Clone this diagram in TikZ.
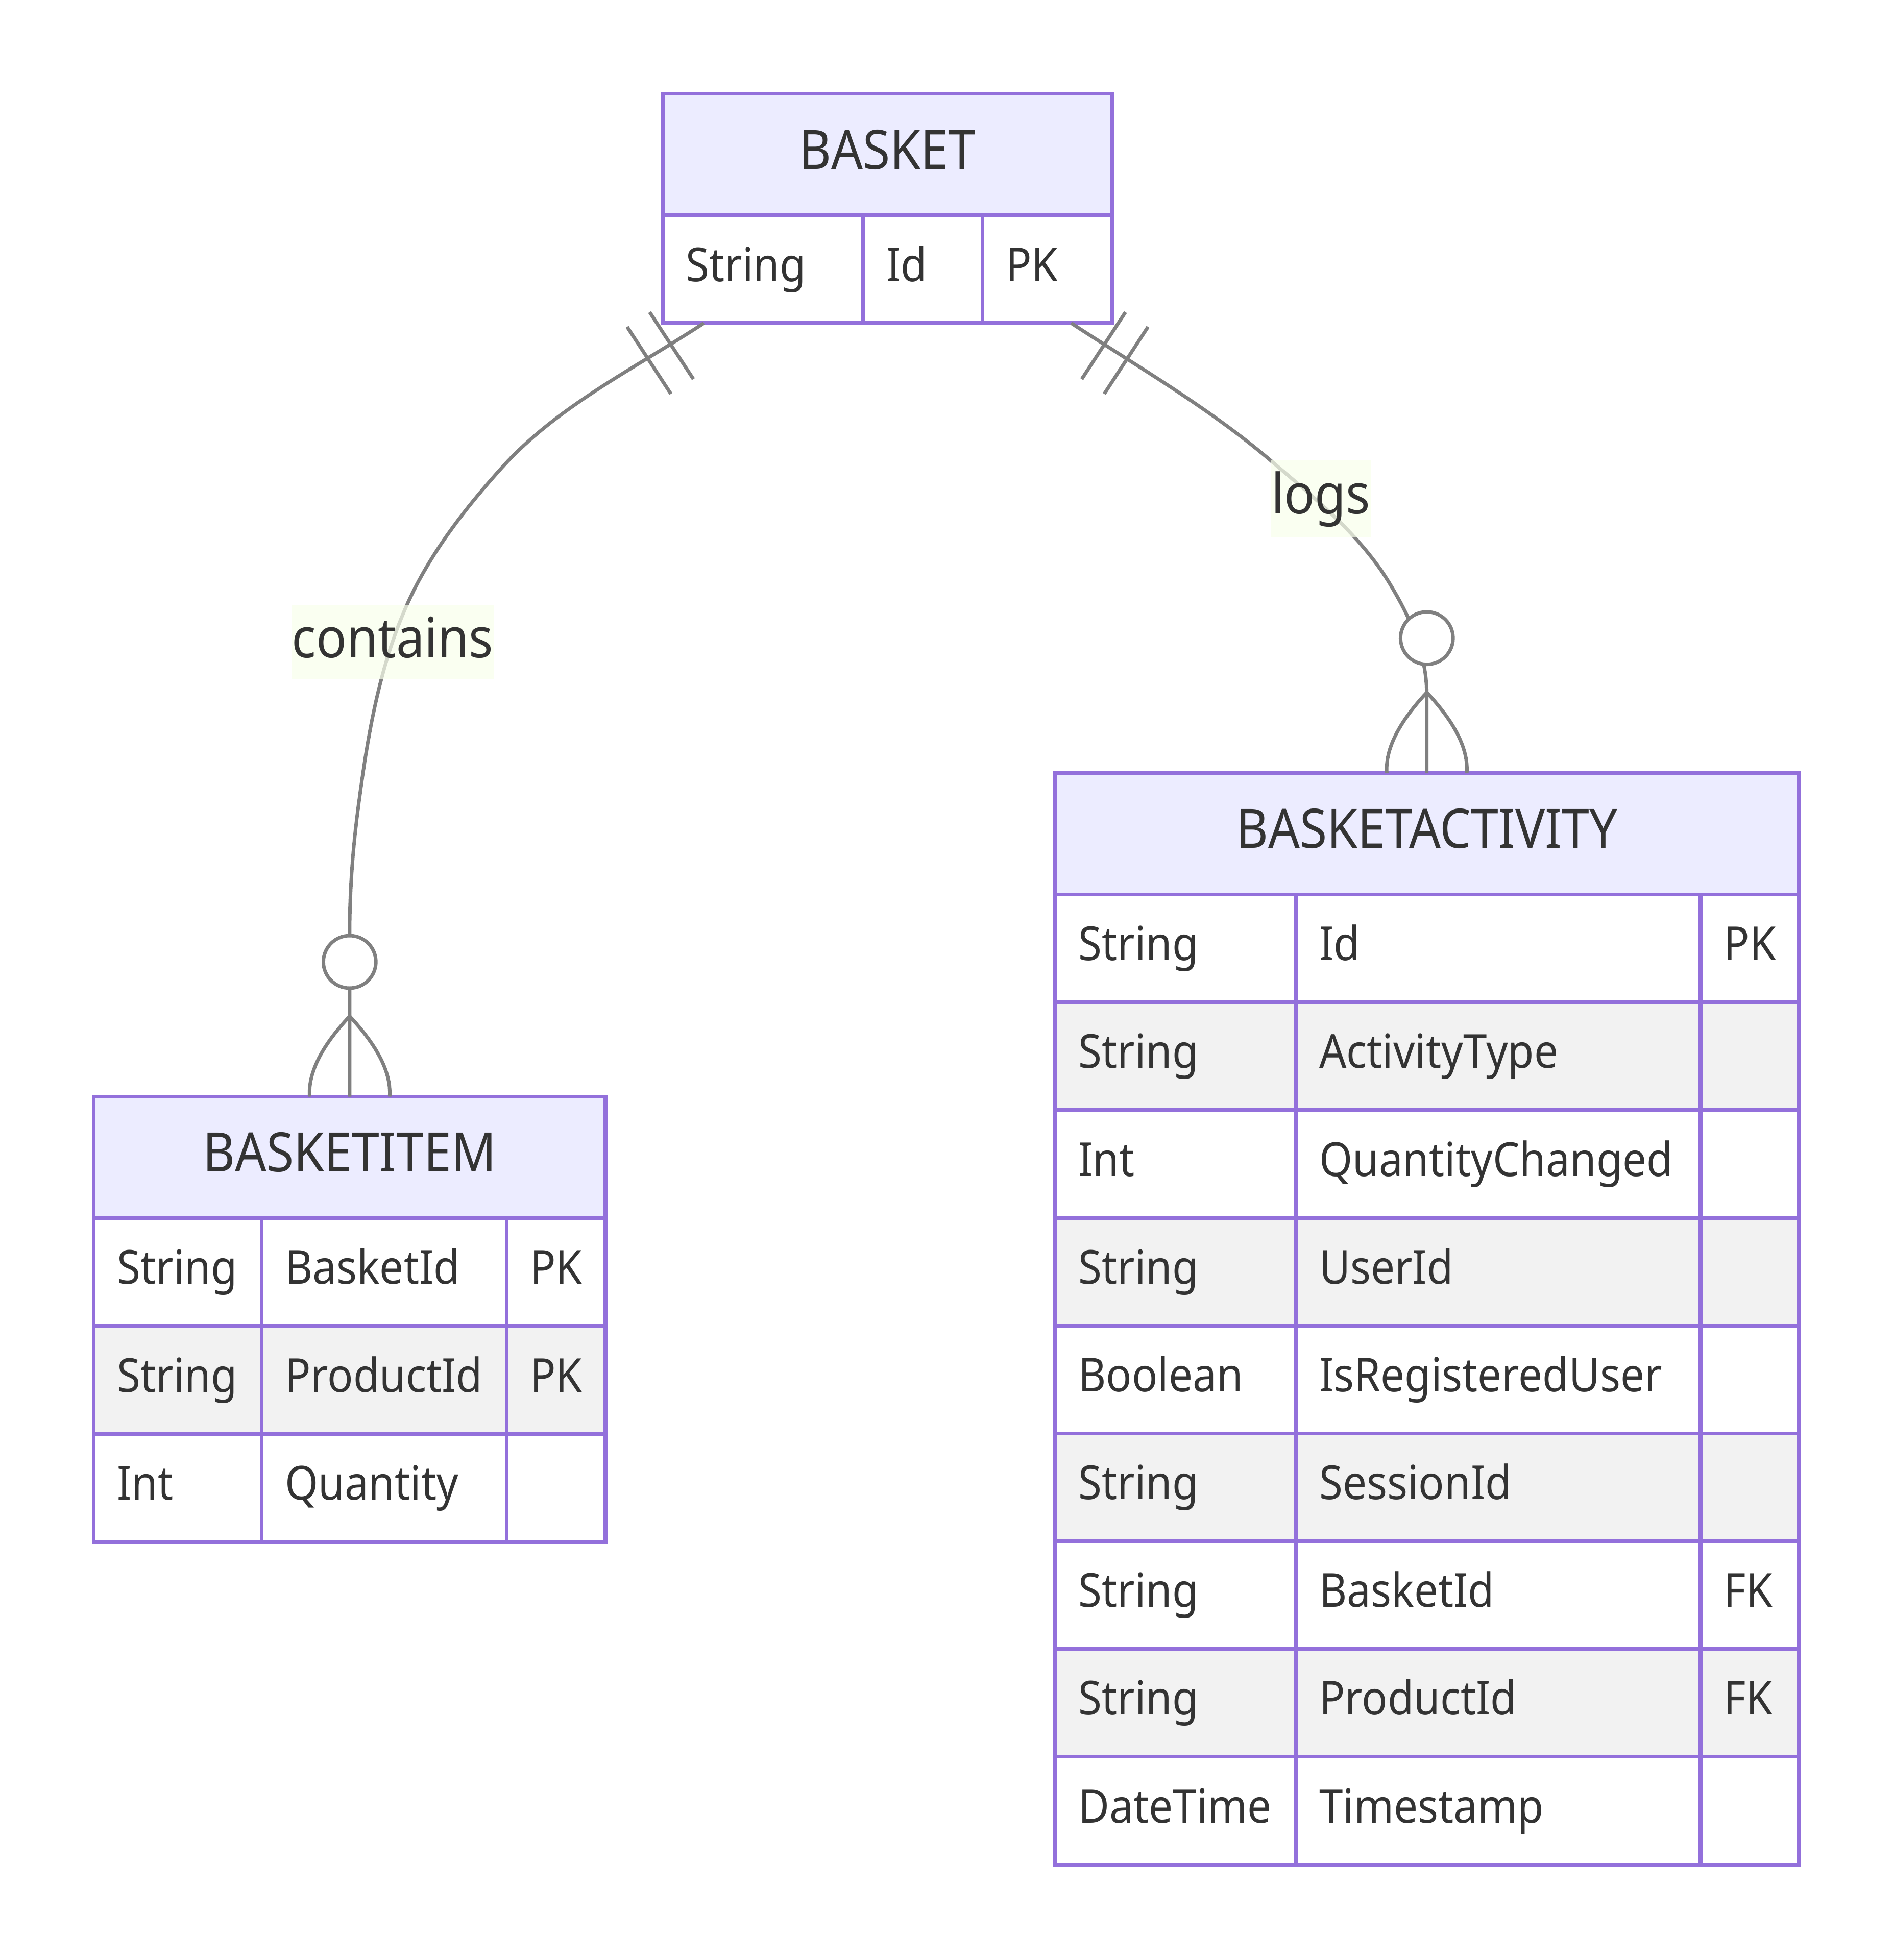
\documentclass[tikz,border=0pt]{standalone}
\usepackage{fontspec}
\setmainfont{Noto Sans}[FakeStretch=0.91]
\usetikzlibrary{calc}
\definecolor{erborder}{HTML}{9370DB}
\definecolor{erhead}{HTML}{ECECFF}
\definecolor{erodd}{HTML}{FFFFFF}
\definecolor{ereven}{HTML}{F2F2F2}
\definecolor{ertext}{HTML}{333333}
\definecolor{erline}{HTML}{808080}
\definecolor{erlabel}{HTML}{F9FFEC}
\tikzset{
  cellbox/.style={draw=erborder, line width=3pt},
  entitybox/.style={rectangle, draw=none, inner sep=0pt, outer sep=0pt},
  titletext/.style={text=ertext, font=\fontsize{43.5}{50}\selectfont, inner sep=0pt, anchor=base},
  attrtext/.style={text=ertext, font=\fontsize{37.5}{44}\selectfont, inner sep=0pt, anchor=base west},
  conn/.style={draw=erline, line width=2.8pt},
  relbg/.style={rectangle, fill=erlabel, fill opacity=0.7, draw=none, inner sep=0pt, outer sep=0pt},
  reltext/.style={text=ertext, font=\fontsize{44.5}{52}\selectfont, inner sep=0pt, anchor=base},
}
\begin{document}
\begin{tikzpicture}[x=1pt,y=-1pt]
\useasboundingbox (0,0) rectangle (1514,1568);
\fill[white] (0,0) rectangle (1514,1568);

% ---------- entity frames (named) ----------
\node[entitybox, minimum width=359.8pt, minimum height=183.5pt] (basket) at (709.9,166.75) {};
\node[entitybox, minimum width=409.3pt, minimum height=356.3pt] (basketitem) at (279.65,1055.45) {};
\node[entitybox, minimum width=594.6pt, minimum height=873.3pt] (basketactivity) at (1141.2,1054.95) {};

% ---------- BASKET ----------
\path[cellbox, fill=erhead] (530,75) rectangle (889.8,172.3);
\path[cellbox, fill=erodd] (530,172.3) rectangle (690.3,258.5);
\path[cellbox, fill=erodd] (690.3,172.3) rectangle (785.8,258.5);
\path[cellbox, fill=erodd] (785.8,172.3) rectangle (889.8,258.5);
\node[titletext] (basket-title) at (709.9,135.2) {BASKET};
\node[attrtext] (basket-t0) at (548.5,225.1) {String};
\node[attrtext] (basket-n0) at (708.8,225.1) {Id};
\node[attrtext] (basket-k0) at (804.3,225.1) {PK};

% ---------- BASKETITEM ----------
\path[cellbox, fill=erhead] (75,877.3) rectangle (484.3,974.3);
\foreach \ty/\nm/\ky [count=\i from 0] in {String/BasketId/PK, String/ProductId/PK, Int/Quantity/{}} {
  \pgfmathsetmacro{\ya}{974.3+86.43*\i}
  \pgfmathsetmacro{\yb}{\ya+86.43}
  \pgfmathsetmacro{\ym}{\ya+43.2+9.7}
  \ifodd\i \def\rf{ereven}\else\def\rf{erodd}\fi
  \path[cellbox, fill=\rf] (75,\ya) rectangle (209.2,\yb);
  \path[cellbox, fill=\rf] (209.2,\ya) rectangle (405.3,\yb);
  \path[cellbox, fill=\rf] (405.3,\ya) rectangle (484.3,\yb);
  \node[attrtext] (bi-t\i) at (93.5,\ym) {\ty};
  \node[attrtext] (bi-n\i) at (227.7,\ym) {\nm};
  \node[attrtext] (bi-k\i) at (423.8,\ym) {\ky};
}
\node[titletext] (basketitem-title) at (279.65,937.3) {BASKETITEM};

% ---------- BASKETACTIVITY ----------
\path[cellbox, fill=erhead] (843.9,618.3) rectangle (1438.5,715.6);
\foreach \ty/\nm/\ky [count=\i from 0] in {String/Id/PK, String/ActivityType/{}, Int/QuantityChanged/{}, String/UserId/{}, Boolean/IsRegisteredUser/{}, String/SessionId/{}, String/BasketId/FK, String/ProductId/FK, DateTime/Timestamp/{}} {
  \pgfmathsetmacro{\ya}{715.6+86.22*\i}
  \pgfmathsetmacro{\yb}{\ya+86.22}
  \pgfmathsetmacro{\ym}{\ya+43.1+9.7}
  \ifodd\i \def\rf{ereven}\else\def\rf{erodd}\fi
  \path[cellbox, fill=\rf] (843.9,\ya) rectangle (1036.5,\yb);
  \path[cellbox, fill=\rf] (1036.5,\ya) rectangle (1360.2,\yb);
  \path[cellbox, fill=\rf] (1360.2,\ya) rectangle (1438.5,\yb);
  \node[attrtext] (ba-t\i) at (862.4,\ym) {\ty};
  \node[attrtext] (ba-n\i) at (1055,\ym) {\nm};
  \node[attrtext] (ba-k\i) at (1378.7,\ym) {\ky};
}
\node[titletext] (basketactivity-title) at (1141.2,678.5) {BASKETACTIVITY};

% ---------- connector end points ----------
\coordinate (lstart) at ($(basket.south west)+(33,0)$);
\coordinate (rstart) at ($(basket.south east)+(-33,0)$);
\coordinate (lend) at (basketitem.north);
\coordinate (rend) at (basketactivity.north);

% ---------- BASKET ||--o{ BASKETITEM : contains ----------
\draw[conn] (lstart)
  .. controls (507.7,294.8) and (445.9,324.8) .. (401.5,374)
  .. controls (371.4,407.4) and (343.1,443.9) .. (325,485)
  .. controls (302.2,536.7) and (293.2,594) .. (286,650)
  .. controls (281.9,682.1) and (279.65,714.6) .. ($(lend)+(0,-130)$)
  -- (lend);
\draw[conn] ($(lstart)+(-43.4,-8.8)$) -- ($(lstart)+(-8.4,44.8)$);
\draw[conn] ($(lstart)+(-61.4,3)$) -- ($(lstart)+(-26.4,56.6)$);
\draw[conn, fill=white] ($(lend)+(0,-107.8)$) circle[radius=21];
\draw[conn] ($(lend)+(0,-64.3)$) .. controls ($(lend)+(-22.7,-40.1)$) and ($(lend)+(-33.3,-18.7)$) .. ($(lend)+(-32,0)$);
\draw[conn] ($(lend)+(0,-64.3)$) .. controls ($(lend)+(22.7,-40.1)$) and ($(lend)+(33.3,-18.7)$) .. ($(lend)+(32,0)$);

% ---------- BASKET ||--o{ BASKETACTIVITY : logs ----------
\draw[conn] (rstart)
  .. controls (911.1,294.1) and (967.7,326.8) .. (1017,369)
  .. controls (1051.2,398.25) and (1087.6,427.6) .. (1111,466)
  .. controls (1128.1,494.1) and (1141.2,523.1) .. ($(rend)+(0,-62)$)
  -- (rend);
\draw[conn] ($(rstart)+(43.4,-8.8)$) -- ($(rstart)+(8.4,44.8)$);
\draw[conn] ($(rstart)+(61.4,3)$) -- ($(rstart)+(26.4,56.6)$);
\draw[conn, fill=white] ($(rend)+(0,-107.8)$) circle[radius=21];
\draw[conn] ($(rend)+(0,-64.3)$) .. controls ($(rend)+(-22.7,-40.1)$) and ($(rend)+(-33.3,-18.7)$) .. ($(rend)+(-32,0)$);
\draw[conn] ($(rend)+(0,-64.3)$) .. controls ($(rend)+(22.7,-40.1)$) and ($(rend)+(33.3,-18.7)$) .. ($(rend)+(32,0)$);

% ---------- relationship labels ----------
\node[relbg, minimum width=162pt, minimum height=59pt] (lbl-contains) at (314,513.5) {};
\node[reltext] (txt-contains) at (314,526) {contains};
\node[relbg, minimum width=80pt, minimum height=61pt] (lbl-logs) at (1056.5,399) {};
\node[reltext] (txt-logs) at (1056.5,411) {logs};
\end{tikzpicture}
\end{document}
